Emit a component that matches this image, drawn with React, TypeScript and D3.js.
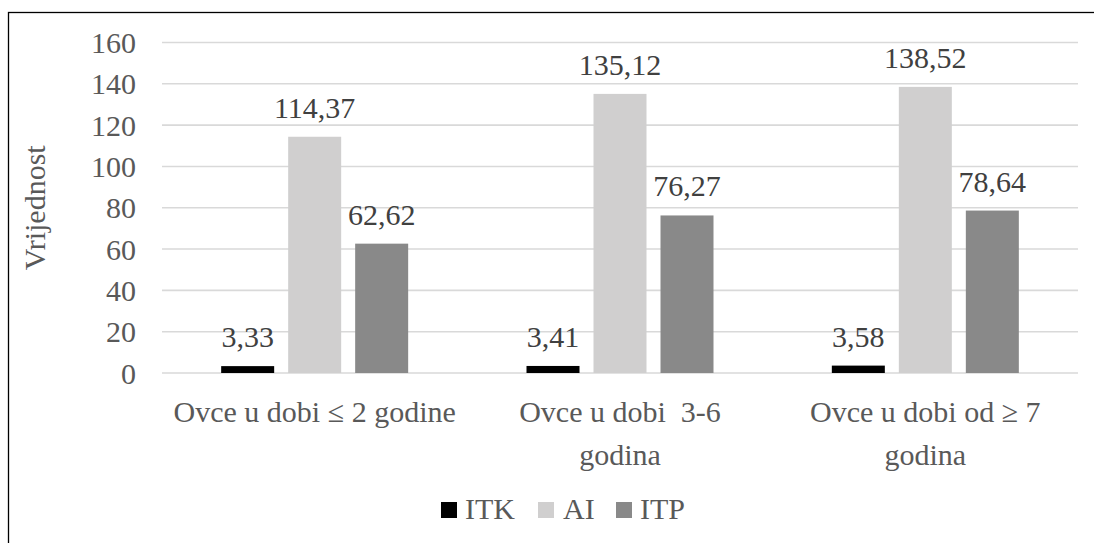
import React from "react";
import * as d3 from "d3";

const categories = ["Ovce u dobi ≤ 2 godine", "Ovce u dobi  3-6\ngodina", "Ovce u dobi od ≥ 7\ngodina"];
const seriesNames = ["ITK", "AI", "ITP"];
const ITK = [3.33, 3.41, 3.58];
const AI = [114.37, 135.12, 138.52];
const ITP = [62.62, 76.27, 78.64];
const yTicks = [0, 20, 40, 60, 80, 100, 120, 140, 160];
const colors = ["#000000", "#d0cfcf", "#898989"];
const seriesValues = [ITK, AI, ITP];

const W = 1094;
const H = 543;
const FONT = "Times New Roman, Liberation Serif, DejaVu Serif, serif";

export default function App() {
  const left = 162, right = 1078, top = 42.5, bottom = 373;
  const y = d3.scaleLinear().domain([0, 160]).range([bottom, top]);
  const x0 = d3.scaleBand().domain(categories).range([left, right]).paddingInner(0).paddingOuter(0);
  const groupW = 53 * 3 + 14 * 2;
  const x1 = d3.scaleBand().domain(seriesNames).range([0, groupW]).paddingInner(14 / 67).paddingOuter(0);
  const fmt = (v: number) => v.toFixed(2).replace(".", ",");
  const ts = { fontFamily: FONT, whiteSpace: "pre" as const };

  const legendItems = [
    { name: "ITK", sx: 441, tx: 465 },
    { name: "AI", sx: 538, tx: 563 },
    { name: "ITP", sx: 616, tx: 640 },
  ];

  return (
    <svg width={W} height={H} style={{ position: "absolute", left: 0, top: 0, background: "#fff", fontFamily: FONT }}>
      <rect x={0} y={0} width={W} height={H} fill="#fff" />
      <rect x={8.5} y={12.5} width={1200} height={700} fill="none" stroke="#000" strokeWidth={1.3} />
      {yTicks.map((t) => (
        <g key={t}>
          <line x1={left} x2={right} y1={y(t)} y2={y(t)} stroke="#d9d9d9" strokeWidth={1.6} />
          <text x={136} y={y(t)} dy="0.35em" textAnchor="end" fontSize={30} fill="#595959" style={ts}>
            {t}
          </text>
        </g>
      ))}
      <text
        transform={`translate(45,${(top + bottom) / 2}) rotate(-90)`}
        textAnchor="middle"
        fontSize={30}
        fill="#595959"
        style={ts}
      >
        Vrijednost
      </text>
      {categories.map((c, ci) => {
        const gx = (x0(c) as number) + x0.bandwidth() / 2 - groupW / 2;
        return (
          <g key={c}>
            {seriesNames.map((s, si) => {
              const v = seriesValues[si][ci];
              const bx = gx + (x1(s) as number);
              const bw = x1.bandwidth();
              return (
                <g key={s}>
                  <rect x={bx} y={y(v)} width={bw} height={y(0) - y(v)} fill={colors[si]} />
                  <text x={bx + bw / 2} y={y(v) - 19} textAnchor="middle" fontSize={30} fill="#404040" style={ts}>
                    {fmt(v)}
                  </text>
                </g>
              );
            })}
            {c.split("\n").map((line, li) => (
              <text
                key={li}
                x={(x0(c) as number) + x0.bandwidth() / 2}
                y={422 + li * 43}
                textAnchor="middle"
                fontSize={30}
                fill="#595959"
                style={ts}
              >
                {line}
              </text>
            ))}
          </g>
        );
      })}
      {legendItems.map((l, i) => (
        <g key={l.name}>
          <rect x={l.sx} y={502} width={16} height={16} fill={colors[i]} />
          <text x={l.tx} y={519} fontSize={30} fill="#595959" style={ts}>
            {l.name}
          </text>
        </g>
      ))}
    </svg>
  );
}
